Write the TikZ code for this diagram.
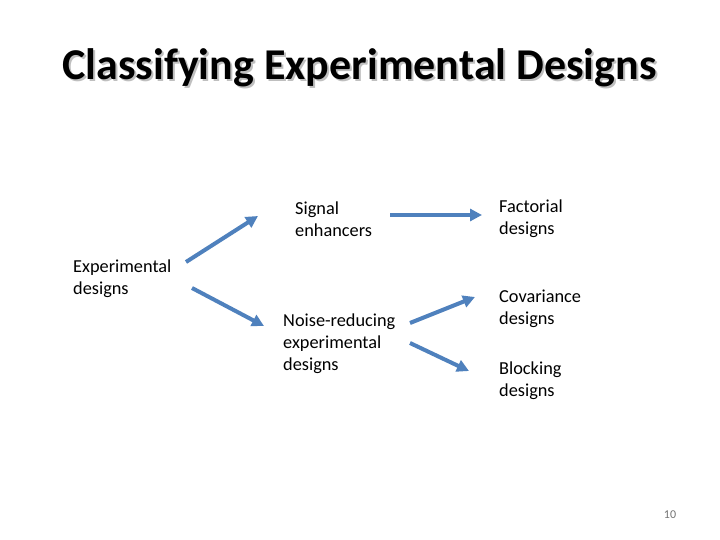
\documentclass[tikz,border=0pt]{standalone}
\usepackage{fontspec}
\setmainfont{Carlito}
\usetikzlibrary{arrows.meta}
\definecolor{arrowblue}{HTML}{4F81BD}
\begin{document}
\begin{tikzpicture}[x=1pt,y=-1pt,
  lbl/.style={anchor=west,inner sep=0pt,align=left,font=\fontsize{18.3}{22}\selectfont},
  conn/.style={draw=arrowblue,line width=4pt,-{Triangle[length=12pt,width=12pt]}}]
\useasboundingbox (0,0) rectangle (720,540);
\fill[white] (0,0) rectangle (720,540);
% title with shadow
\node[text=black!25,font=\fontsize{44}{52}\bfseries\selectfont] at (361.5,70) {Classifying Experimental Designs};
\node (title) [font=\fontsize{44}{52}\bfseries\selectfont] at (359.5,68) {Classifying Experimental Designs};
% labels
\node (exp) [lbl] at (73,278.5) {Experimental\\designs};
\node (sig) [lbl] at (295,219) {Signal\\enhancers};
\node (noise) [lbl] at (283,344) {Noise-reducing\\experimental\\designs};
\node (fact) [lbl] at (499,219) {Factorial\\designs};
\node (cov) [lbl] at (499,309) {Covariance\\designs};
\node (block) [lbl] at (499,381) {Blocking\\designs};
\node (page) [inner sep=0pt,text=black!55,font=\fontsize{12}{14}\selectfont] at (670,515) {10};
% connector endpoints
\coordinate (a1) at (186,262); \coordinate (b1) at (258,216);
\coordinate (a2) at (192,288); \coordinate (b2) at (264,326);
\coordinate (a3) at (390,215); \coordinate (b3) at (482,215);
\coordinate (a4) at (410,323); \coordinate (b4) at (475,297);
\coordinate (a5) at (410,343); \coordinate (b5) at (469,371);
\draw[conn] (a1) -- (b1);
\draw[conn] (a2) -- (b2);
\draw[conn] (a3) -- (b3);
\draw[conn] (a4) -- (b4);
\draw[conn] (a5) -- (b5);
\end{tikzpicture}
\end{document}
